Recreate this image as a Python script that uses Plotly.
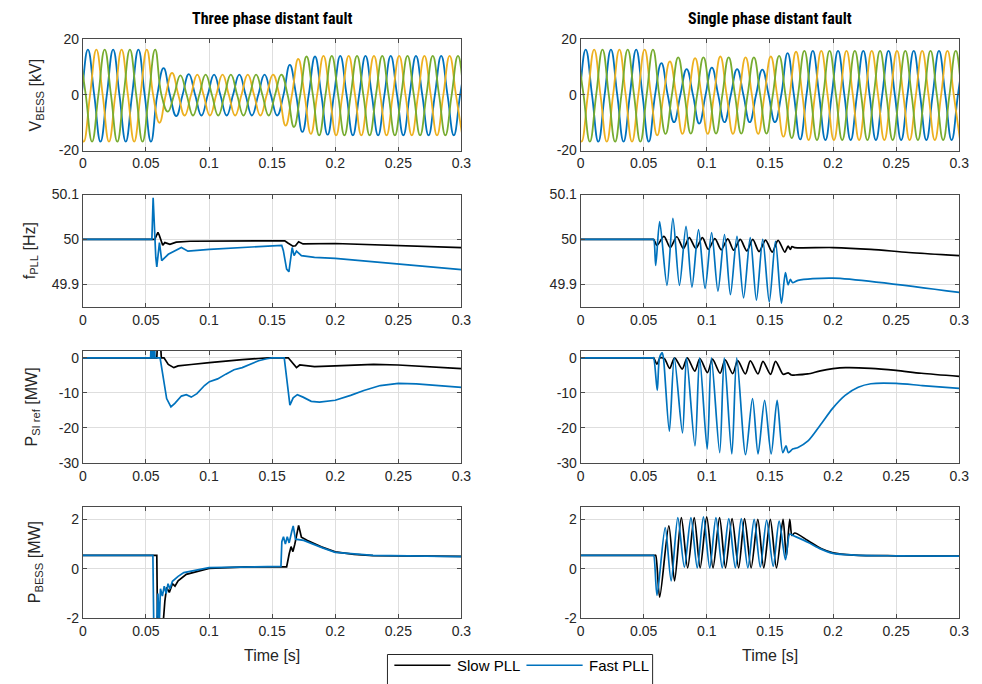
import plotly.graph_objects as go

W, H = 982, 684

BLUE = '#0072BD'
ORANGE = '#EDB120'
GREEN = '#77AC30'
BLACK = '#000000'

# ---------------- Voltage panels: extremum values (kV) per half cycle ----------------
HALF = 0.01  # half period of the 50 Hz waveform [s]
# first extremum time of each phase (s)
t0_blue, t0_orange, t0_green = -0.006, -0.0093, -0.0027

v3_blue = [-16.8, 16.3, -16.8, 16.3, -16.8, 16.3, -16.8, 9.6, -7.6, 7.5, -7.4, 7.3, -7.4, 7.3, -7.4, 7.3,
           -7.4, 10.8, -13.3, 13.8, -14.3, 14.0, -14.5, 14.0, -14.5, 14.0, -14.5, 14.0, -14.5, 14.0, -14.5, 14.0]
v3_orange = [16.3, -16.8, 16.3, -16.8, 16.3, -16.8, 16.3, -10.0, 7.9, -7.4, 7.3, -7.4, 7.3, -7.4, 7.3, -7.4,
             7.3, -11.0, 12.9, -14.0, 14.0, -14.5, 14.0, -14.5, 14.0, -14.5, 14.0, -14.5, 14.0, -14.5, 14.0, -14.5]
v3_green = [16.3, -16.8, 16.3, -16.8, 16.3, -16.8, 16.3, -6.0, 7.0, -7.4, 7.3, -7.4, 7.3, -7.4, 7.3, -7.4,
            7.3, -11.5, 13.8, -14.5, 14.0, -14.5, 14.0, -14.5, 14.0, -14.5, 14.0, -14.5, 14.0, -14.5, 14.0, -14.5]

v1_blue = [-16.8, 16.3, -16.8, 16.3, -16.8, 16.3, -16.8, 11.4, -9.8, 9.3, -10.3, 9.8, -9.8, 9.3, -9.8, 9.1,
           -9.8, 15.0, -16.0, 15.8, -16.2, 15.8, -16.2, 15.8, -16.2, 15.8, -16.2, 15.8, -16.2, 15.8, -16.2, 15.8]
v1_orange = [16.3, -16.8, 16.3, -16.8, 16.3, -16.8, 16.3, -14.5, 12.0, -14.0, 13.2, -14.0, 13.8, -14.0, 13.5, -14.0,
             13.8, -15.0, 15.5, -16.2, 15.8, -16.2, 15.8, -16.2, 15.8, -16.2, 15.8, -16.2, 15.8, -16.2, 15.8, -16.2]
v1_green = [16.3, -16.8, 16.3, -16.8, 16.3, -16.8, 16.3, -14.0, 13.5, -13.9, 13.5, -13.9, 13.5, -13.9, 13.5, -13.9,
            14.0, -15.5, 15.8, -16.2, 15.8, -16.2, 15.8, -16.2, 15.8, -16.2, 15.8, -16.2, 15.8, -16.2, 15.8, -16.2]

# ---------------- f_PLL [Hz] ----------------
f3_slow_t = [0, 0.057, 0.0595, 0.0605, 0.0633, 0.065, 0.069, 0.074, 0.085, 0.15, 0.160, 0.1625, 0.1665, 0.1685,
             0.171, 0.1745, 0.2, 0.3]
f3_slow = [50, 50, 50.016, 50.010, 49.987, 49.993, 49.989, 49.994, 49.996, 49.997, 49.997, 49.992, 49.985, 49.986,
           49.995, 49.990, 49.991, 49.982]
f3_fast_t = [0, 0.0547, 0.0557, 0.0568, 0.0578, 0.0586, 0.0607, 0.0625, 0.0651, 0.0677, 0.0781, 0.0833, 0.1003,
             0.1263, 0.1523, 0.1576, 0.1589, 0.1615, 0.1633, 0.1659, 0.1674, 0.1693, 0.1732, 0.1836, 0.2, 0.3]
f3_fast = [50, 50, 50.093, 50.0, 49.96, 49.939, 49.993, 49.953, 49.960, 49.967, 49.982, 49.974, 49.978, 49.982,
           49.985, 49.987, 49.975, 49.934, 49.928, 49.982, 49.964, 49.974, 49.964, 49.960, 49.958, 49.933]

f1_slow_t = [0, 0.05, 0.057, 0.0579, 0.0605, 0.066, 0.071, 0.0762, 0.0814, 0.0861, 0.0913, 0.0965, 0.1012, 0.1064,
             0.1114, 0.1166, 0.1213, 0.1265, 0.1317, 0.1364, 0.1414, 0.1466, 0.1518, 0.1565, 0.1618, 0.1644, 0.1662,
             0.1675, 0.1696, 0.2, 0.23, 0.26, 0.3]
f1_slow = [50, 50, 50, 50, 49.987, 50.007, 49.982, 50.006, 49.980, 50.004, 49.980, 50.004, 49.978, 50.002, 49.977,
           50.0015, 49.976, 50.0, 49.9745, 50.0, 49.973, 49.9985, 49.972, 49.998, 49.972, 49.985, 49.978, 49.984,
           49.982, 49.982, 49.978, 49.971, 49.964]
f1_fast_t = [0, 0.05, 0.057, 0.0579, 0.0595, 0.0626, 0.0684, 0.0731, 0.0783, 0.0835, 0.0882, 0.0934, 0.0986, 0.1038,
             0.1088, 0.114, 0.1187, 0.1239, 0.1291, 0.1344, 0.1393, 0.1443, 0.1495, 0.1544, 0.1591, 0.1623, 0.1644,
             0.1662, 0.168, 0.1722, 0.2, 0.3]
f1_fast = [50, 50, 50, 50, 49.942, 50.040, 49.898, 50.047, 49.898, 50.029, 49.894, 50.022, 49.891, 50.015, 49.885,
           50.011, 49.877, 50.007, 49.870, 50.004, 49.865, 50.0, 49.861, 49.996, 49.858, 49.926, 49.899, 49.911,
           49.904, 49.909, 49.914, 49.882]

# ---------------- P_SI ref [MW] ----------------
p3_slow_t = [0, 0.0586, 0.0590, 0.0617, 0.0622, 0.0643, 0.0677, 0.0721, 0.0755, 0.0794, 0.0859, 0.1003, 0.1133,
             0.1263, 0.1393, 0.1471, 0.1628, 0.1693, 0.1719, 0.1836, 0.2, 0.2305, 0.25, 0.3]
p3_slow = [0, 0, 3.0, 3.0, 0, 0, -1.9, -2.8, -2.3, -2.1, -1.9, -1.4, -0.9, -0.5, -0.2, 0, 0, -2.8, -2.05, -2.5,
           -2.3, -1.86, -2.05, -3.07]
p3_fast_t = [0, 0.0537, 0.0540, 0.0548, 0.0551, 0.0558, 0.0561, 0.0569, 0.0572, 0.0612, 0.0664, 0.0698, 0.0729,
             0.0781, 0.082, 0.0859, 0.0904, 0.0964, 0.1003, 0.1068, 0.1133, 0.1198, 0.1263, 0.1328, 0.1393, 0.1458,
             0.1497, 0.1596, 0.1641, 0.1667, 0.17, 0.1745, 0.181, 0.1875, 0.2, 0.2122, 0.2227, 0.2357, 0.25,
             0.2643, 0.2826, 0.3]
p3_fast = [0, 0, 3.0, 3.0, 0, 0, 3.0, 3.0, 0, 0, -11.6, -14.0, -13.0, -10.9, -10.5, -11.2, -10.2, -7.9, -6.8,
           -6.0, -4.65, -3.4, -2.8, -1.86, -0.84, -0.28, 0, 0, -13.5, -11.4, -10.5, -11.2, -12.4, -12.6, -12.1,
           -10.7, -9.3, -7.9, -7.3, -7.4, -7.9, -8.4]

p1_slow_t = [0, 0.05, 0.057, 0.0578, 0.0605, 0.063, 0.0665, 0.0705, 0.0745, 0.0805, 0.0845, 0.0905, 0.0945, 0.1005,
             0.1045, 0.1105, 0.1145, 0.1205, 0.1245, 0.1305, 0.1345, 0.1405, 0.1445, 0.1505, 0.1545, 0.1605, 0.1645,
             0.167, 0.17, 0.18, 0.19, 0.2, 0.21, 0.23, 0.25, 0.27, 0.3]
p1_slow = [0, 0, 0, 0, -1.8, 0, -0.3, -3.0, 0, -3.2, 0, -3.8, -0.2, -4.2, -0.4, -4.4, -0.6, -4.5, -0.8, -4.6, -0.9,
           -4.6, -1.0, -4.7, -1.0, -4.7, -4.3, -4.9, -4.9, -4.6, -3.7, -3.1, -2.8, -3.0, -3.6, -4.4, -5.3]
p1_fast_t = [0, 0.05, 0.057, 0.0578, 0.0607, 0.0625, 0.0646, 0.0656, 0.0703, 0.0742, 0.0807, 0.0839, 0.0906, 0.0943,
             0.1003, 0.1036, 0.1102, 0.1138, 0.1198, 0.1237, 0.1307, 0.1362, 0.1406, 0.1458, 0.151, 0.1557, 0.1602,
             0.1628, 0.1646, 0.168, 0.1719, 0.1802, 0.1901, 0.1997, 0.2096, 0.22, 0.23, 0.25, 0.2708, 0.3]
p1_fast = [0, 0, 0, 0, -9.3, 0, 1.4, 0, -20.9, 0, -21.4, 0, -25.1, 0, -26.0, 0, -27.0, 0, -27.4, 0, -27.6, -11.6,
           -27.4, -12.1, -27.4, -12.1, -27.0, -25.1, -27.0, -26.0, -25.6, -23.7, -19.1, -14.4, -10.7, -8.4, -7.4,
           -7.3, -7.9, -8.7]

# ---------------- P_BESS [MW] ----------------
b3_slow_t = [0, 0.0586, 0.0592, 0.0635, 0.065, 0.0664, 0.0685, 0.071, 0.073, 0.0755, 0.082, 0.0898, 0.1, 0.13,
             0.1615, 0.1635, 0.165, 0.1665, 0.168, 0.171, 0.1732, 0.178, 0.189, 0.2, 0.215, 0.23, 0.3]
b3_slow = [0.55, 0.55, -2.3, -2.3, -1.3, -0.75, -0.95, -0.6, -0.7, -0.48, -0.22, -0.12, 0.02, 0.08, 0.08, 0.6,
           0.9, 0.7, 1.0, 1.76, 1.28, 1.15, 0.89, 0.69, 0.59, 0.54, 0.51]
b3_fast_t = [0, 0.0555, 0.0562, 0.0585, 0.0595, 0.0605, 0.0615, 0.063, 0.0645, 0.066, 0.0675, 0.069, 0.071,
             0.0755, 0.08, 0.09, 0.1, 0.157, 0.1577, 0.159, 0.1605, 0.162, 0.1635, 0.1655, 0.1667, 0.1685, 0.175,
             0.19, 0.2, 0.23, 0.3]
b3_fast = [0.55, 0.55, -2.3, -2.3, -1.0, -2.3, -0.8, -1.1, -0.7, -1.0, -0.6, -0.8, -0.5, -0.3, -0.15, -0.05,
           0.05, 0.1, 1.1, 1.3, 1.0, 1.3, 1.05, 1.5, 1.74, 1.2, 1.15, 0.85, 0.67, 0.55, 0.5]

b1_slow_t = [0, 0.05, 0.0588, 0.0595, 0.0626, 0.0699, 0.0744, 0.0798, 0.0848, 0.09, 0.0947, 0.0999, 0.1049, 0.1101,
             0.1148, 0.12, 0.1252, 0.1299, 0.1351, 0.1404, 0.1451, 0.1503, 0.1552, 0.1604, 0.163, 0.1657, 0.1675,
             0.1696, 0.18, 0.1905, 0.2, 0.2165, 0.25, 0.3]
b1_slow = [0.55, 0.55, 0.55, 0.55, -1.14, 1.74, -0.48, 2.07, 0.04, 2.07, 0.04, 2.1, 0.04, 2.07, 0.04, 2.03, 0.04,
           2.03, 0.04, 2.0, 0.04, 2.0, 0.04, 2.0, 0.5, 2.0, 1.35, 1.45, 1.15, 0.82, 0.65, 0.56, 0.53, 0.52]
b1_fast_t = [0, 0.05, 0.0572, 0.0579, 0.0605, 0.067, 0.0717, 0.077, 0.0822, 0.0874, 0.0924, 0.0973, 0.1023, 0.1072,
             0.1122, 0.1174, 0.1226, 0.1273, 0.1325, 0.1375, 0.1424, 0.1474, 0.1526, 0.1573, 0.1623, 0.1657, 0.1683,
             0.18, 0.1905, 0.2, 0.2165, 0.25, 0.3]
b1_fast = [0.55, 0.55, 0.55, 0.55, -1.07, 1.67, -0.48, 2.07, 0.07, 2.07, 0.04, 2.1, 0.04, 2.07, 0.04, 2.03, 0.04,
           2.03, 0.04, 2.0, 0.07, 1.97, 0.1, 1.93, 0.37, 1.41, 1.35, 1.08, 0.8, 0.63, 0.56, 0.53, 0.52]

# ---------------- ticks / labels ----------------
x_ticks = [0, 0.05, 0.1, 0.15, 0.2, 0.25, 0.3]
x_ticktext = ['0', '0.05', '0.1', '0.15', '0.2', '0.25', '0.3']
v_ticks, v_ticktext = [-20, 0, 20], ['-20', '0', '20']
f_ticks, f_ticktext = [49.9, 50.0, 50.1], ['49.9', '50', '50.1']
p_ticks, p_ticktext = [-30, -20, -10, 0], ['-30', '-20', '-10', '0']
b_ticks, b_ticktext = [-2, 0, 2], ['-2', '0', '2']
row_ranges = [[-20, 20], [49.85, 50.1], [-30, 2], [-2, 2.5]]
row_ticks = [(v_ticks, v_ticktext), (f_ticks, f_ticktext), (p_ticks, p_ticktext), (b_ticks, b_ticktext)]
row_titles = ['V<sub>BESS</sub> [kV]', 'f<sub>PLL</sub> [Hz]', 'P<sub>SI ref</sub> [MW]', 'P<sub>BESS</sub> [MW]']
col_titles = ['Three phase distant fault', 'Single phase distant fault']
legend_names = ['Slow PLL', 'Fast PLL']
x_title = 'Time [s]'


def wave(t0, ext):
    ts, vs = [], []
    for k, v in enumerate(ext):
        t = t0 + k * HALF
        if k > 0:
            ts.append(t - HALF / 2)
            vs.append(0.0)
        ts.append(t)
        vs.append(v)
    return ts, vs


FONT = 'Liberation Sans, Arial, sans-serif'
fig = go.Figure()

# layout geometry (px)
col_px = [(80, 464), (585, 969)]
row_px = [(32, 146), (191, 306), (351, 466), (511, 625)]


def ax_name(r, c):
    return r * 2 + c + 1


# voltage traces
for c, (vb, vo, vg) in enumerate([(v3_blue, v3_orange, v3_green), (v1_blue, v1_orange, v1_green)]):
    n = ax_name(0, c)
    for t0, ext, col, nm in [(t0_blue, vb, BLUE, 'Phase a'), (t0_orange, vo, ORANGE, 'Phase b'),
                             (t0_green, vg, GREEN, 'Phase c')]:
        tx, vy = wave(t0, ext)
        fig.add_trace(go.Scatter(x=tx, y=vy, mode='lines', name=nm,
                                 line=dict(color=col, width=1.8, shape='spline', smoothing=1.3),
                                 showlegend=False, xaxis='x%d' % n, yaxis='y%d' % n, hoverinfo='skip'))

pairs = [
    (1, 0, (f3_slow_t, f3_slow), (f3_fast_t, f3_fast), 'linear'),
    (1, 1, (f1_slow_t, f1_slow), (f1_fast_t, f1_fast), 'spline'),
    (2, 0, (p3_slow_t, p3_slow), (p3_fast_t, p3_fast), 'linear'),
    (2, 1, (p1_slow_t, p1_slow), (p1_fast_t, p1_fast), 'spline'),
    (3, 0, (b3_slow_t, b3_slow), (b3_fast_t, b3_fast), 'linear'),
    (3, 1, (b1_slow_t, b1_slow), (b1_fast_t, b1_fast), 'spline'),
]
for r, c, slow, fast, shp in pairs:
    n = ax_name(r, c)
    fig.add_trace(go.Scatter(x=slow[0], y=slow[1], mode='lines', name=legend_names[0],
                             line=dict(color=BLACK, width=1.7, shape=shp, smoothing=0.8), showlegend=False,
                             xaxis='x%d' % n, yaxis='y%d' % n))
    fig.add_trace(go.Scatter(x=fast[0], y=fast[1], mode='lines', name=legend_names[1],
                             line=dict(color=BLUE, width=1.7, shape=shp, smoothing=0.8), showlegend=False,
                             xaxis='x%d' % n, yaxis='y%d' % n))

common = dict(showline=True, linecolor='#4a4a4a', linewidth=1, mirror='ticks', ticks='inside', ticklen=4,
              tickcolor='#4a4a4a', showgrid=True, gridcolor='#dedede', gridwidth=1, zeroline=False,
              tickfont=dict(family=FONT, size=14, color='#262626'), fixedrange=True)

layout = dict(width=W, height=H, margin=dict(l=0, r=0, t=0, b=0), plot_bgcolor='white',
              paper_bgcolor='white', font=dict(family=FONT, size=14, color='#262626'), showlegend=False)
for r in range(4):
    for c in range(2):
        n = ax_name(r, c)
        xs = '' if n == 1 else str(n)
        x0, x1 = col_px[c]
        y0, y1 = row_px[r]
        layout['xaxis' + xs] = dict(common, domain=[x0 / W, x1 / W], range=[0, 0.3], tickvals=x_ticks,
                                    ticktext=x_ticktext, anchor='y' + xs)
        layout['yaxis' + xs] = dict(common, domain=[1 - y1 / H, 1 - y0 / H], range=row_ranges[r],
                                    tickvals=row_ticks[r][0], ticktext=row_ticks[r][1], anchor='x' + xs)


def px_x(p):
    return p / W


def px_y(p):
    return 1 - p / H


ann = []
for c, title in enumerate(col_titles):
    xc = (col_px[c][0] + col_px[c][1]) / 2
    ann.append(dict(text='<b>%s</b>' % title, x=px_x(xc), y=px_y(11), xref='paper', yref='paper',
                    showarrow=False, xanchor='center', yanchor='middle',
                    font=dict(family='Liberation Sans Narrow, Arial Narrow, Roboto Condensed, Liberation Sans',
                              size=16, color='#000000')))
    ann.append(dict(text=x_title, x=px_x(xc), y=px_y(663), xref='paper', yref='paper', showarrow=False,
                    xanchor='center', yanchor='middle', font=dict(family=FONT, size=16, color='#262626')))
ylab_x = [33, 27, 29, 32]
for r, t in enumerate(row_titles):
    yc = (row_px[r][0] + row_px[r][1]) / 2
    ann.append(dict(text=t, x=px_x(ylab_x[r]), y=px_y(yc), xref='paper', yref='paper', showarrow=False,
                    textangle=-90, xanchor='center', yanchor='middle',
                    font=dict(family=FONT, size=16, color='#262626')))

# legend box (drawn, partly below the page edge as in the reference)
shapes = [dict(type='rect', xref='paper', yref='paper', x0=px_x(389), x1=px_x(658), y0=px_y(662), y1=px_y(700),
               line=dict(color='#262626', width=1), fillcolor='white', layer='above')]
leg_items = [(396, 453, 458, BLACK, legend_names[0]), (530, 587, 591, BLUE, legend_names[1])]
for lx0, lx1, tx, col, name in leg_items:
    shapes.append(dict(type='line', xref='paper', yref='paper', x0=px_x(lx0), x1=px_x(lx1), y0=px_y(673),
                       y1=px_y(673), line=dict(color=col, width=1.7), layer='above'))
    ann.append(dict(text=name, x=px_x(tx), y=px_y(673), xref='paper', yref='paper', showarrow=False,
                    xanchor='left', yanchor='middle', font=dict(family=FONT, size=15, color='#000000')))
layout['annotations'] = ann
layout['shapes'] = shapes
fig.update_layout(layout)
fig.write_html('out.html')
